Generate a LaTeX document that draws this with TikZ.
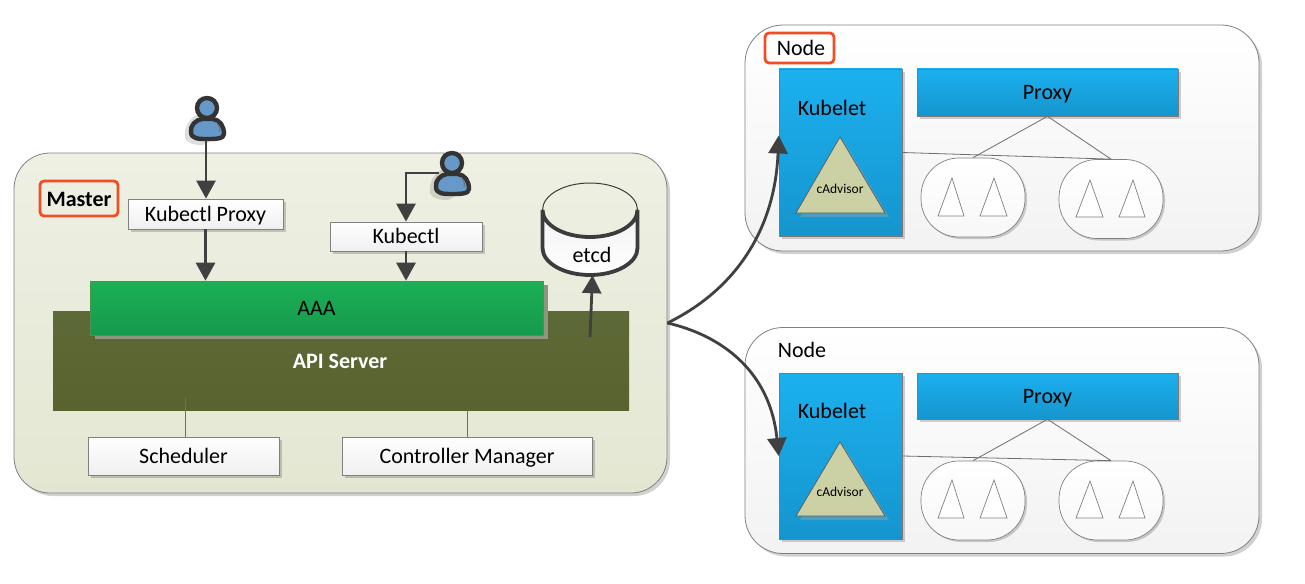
\documentclass[tikz,border=0pt]{standalone}
\usepackage{fontspec}
\setmainfont{Carlito}
\usetikzlibrary{arrows.meta,calc,positioning,shadows}
\definecolor{arrowgray}{HTML}{404040}
\definecolor{edgegray}{HTML}{808080}
\definecolor{markred}{HTML}{F04E23}
\definecolor{userblue}{HTML}{6699C8}
\definecolor{cadvisorfill}{HTML}{CBD1A4}
\definecolor{mastertop}{HTML}{EEF0E3}
\definecolor{masterbottom}{HTML}{E3E7D2}
\definecolor{bluetop}{HTML}{1CB0EF}
\definecolor{bluebottom}{HTML}{1595CE}
\definecolor{greentop}{HTML}{1BB056}
\definecolor{greenbottom}{HTML}{169A4C}
\definecolor{olivetop}{HTML}{5D6937}
\definecolor{olivebottom}{HTML}{59632F}
\definecolor{aaashade}{HTML}{92957E}
\definecolor{cylinderink}{HTML}{3C3C3C}
\tikzset{
    softshadow/.style={drop shadow={shadow xshift=#1,shadow yshift=-#1,fill=black,opacity=0.18}},
    boardbox/.style={draw=edgegray,line width=0.8pt,rounded corners=#1,top color=white,bottom color=black!5,softshadow=3pt},
    masterbox/.style={boardbox=36pt,top color=mastertop,bottom color=masterbottom},
    whitebox/.style={draw=edgegray,line width=0.8pt,top color=white,bottom color=black!6,softshadow=3pt,text height=14pt,text depth=0pt,font=\fontsize{22}{26}\selectfont},
    bluebox/.style={draw=arrowgray!70,line width=0.6pt,top color=bluetop,bottom color=bluebottom,softshadow=3pt,text height=14pt,text depth=0pt,font=\fontsize{22}{26}\selectfont},
    podbox/.style={draw=edgegray,line width=0.7pt,rounded corners=38pt,top color=white,bottom color=black!3,minimum width=104pt,minimum height=79pt,softshadow=2pt},
    tagbox/.style={draw=markred,line width=2.8pt,rounded corners=4pt,fill=none},
    plaintext/.style={inner sep=0pt,font=\fontsize{22}{26}\selectfont},
    smalltext/.style={inner sep=0pt,font=\fontsize{13.5}{16}\selectfont},
    arrowline/.style={draw=arrowgray,line width=2.8pt,-{Triangle[width=19pt,length=18pt]}},
    thinline/.style={draw=edgegray!85!black,line width=0.8pt},
    minitri/.style={draw=edgegray,line width=0.7pt,fill=white},
    advisortri/.style={draw=edgegray!70!black,line width=0.7pt,fill=cadvisorfill},
    advisorback/.style={fill=gray!60!cyan,opacity=0.6}
}
% person icon: #1 is the middle of the head
\newcommand{\usericon}[1]{
    \begin{scope}[shift={#1}]
        \fill[black,opacity=0.13] (-22,30) .. controls (-24,16) and (-14,8) .. (-6,4) -- (10,30) -- (-4,37) .. controls (-12,37) and (-20,36) .. (-22,30) -- cycle;
        \draw[black!80,line width=4.4pt,line join=round,fill=userblue] (-16,24) .. controls (-17,17) and (-11,12) .. (-5,11) -- (6,11)
            .. controls (13,12) and (17,18) .. (17,26) .. controls (17,31) and (8,31) .. (0,31) .. controls (-8,31) and (-16,31) .. (-16,24) -- cycle;
        \draw[black!80,line width=4.4pt,fill=userblue] (0,0) circle (10);
        \draw[black!60,line width=0.7pt] (9,14) .. controls (12,17) and (13,20) .. (12,24);
    \end{scope}
}

\begin{document}
\begin{tikzpicture}[x=1pt,y=-1pt]
    \useasboundingbox (0,0) rectangle (1305,583);

    % master side
    \node[masterbox,minimum width=653pt,minimum height=340pt] (master) at (340.5,323) {};
    \node[tagbox,minimum width=78pt,minimum height=35pt] (mastertag) at (79,198.5) {};
    \node[plaintext,font=\fontsize{22}{26}\selectfont\bfseries] (masterlabel) at (79,199) {Master};
    \node[whitebox,minimum width=155pt,minimum height=30pt] (kubectlproxy) at (205.5,214) {Kubectl Proxy};
    \node[whitebox,minimum width=152pt,minimum height=29pt] (kubectl) at (406,236.5) {Kubectl};
    \node[minimum width=576pt,minimum height=99pt,top color=olivetop,bottom color=olivebottom,inner sep=0pt] (apiserver) at (341,360.5) {};
    \node[plaintext,text=white,font=\fontsize{22}{26}\selectfont\bfseries] (apilabel) at (340,361) {API Server};
    \node[draw=green!40!black!70,line width=0.6pt,minimum width=453pt,minimum height=54pt,top color=greentop,bottom color=greenbottom,
        drop shadow={shadow xshift=5pt,shadow yshift=-4pt,fill=aaashade,opacity=1},font=\fontsize{22}{26}\selectfont] (aaa) at (316.5,308) {AAA};
    \node[whitebox,minimum width=191pt,minimum height=38pt] (scheduler) at (183.5,456) {Scheduler};
    \node[whitebox,minimum width=250pt,minimum height=38pt] (controller) at (467,456) {Controller Manager};
    \coordinate (schedulertop) at (185,397);
    \draw[thinline] (schedulertop) -- (schedulertop |- scheduler.north);
    \draw[thinline] (apiserver.south -| controller.north) -- (controller.north);

    % etcd
    \node[minimum width=96pt,minimum height=92pt,inner sep=0pt] (etcd) at (590.5,229) {};
    \path[top color=black!5,bottom color=white] (542.5,210) arc[x radius=47.5,y radius=27,start angle=180,end angle=0] -- (637.5,248) arc[x radius=47.5,y radius=27,start angle=0,end angle=180] -- cycle;
    \draw[cylinderink,line width=1pt] (542.5,210) arc[x radius=47.5,y radius=27,start angle=180,end angle=360];
    \draw[cylinderink,line width=3.8pt] (542.5,210) arc[x radius=47.5,y radius=27,start angle=180,end angle=0] -- (637.5,248) arc[x radius=47.5,y radius=27,start angle=0,end angle=180] -- cycle;
    \node[plaintext] (etcdlabel) at (592,255) {etcd};
    \coordinate (etcdfoot) at (590,337);
    \draw[arrowline] (etcdfoot) -- ([xshift=2pt]etcd.south);

    % users and their arrows
    \usericon{(207,108)}
    \usericon{(452,163)}
    \node[minimum width=37pt,minimum height=44pt,inner sep=0pt] (userone) at (206,118) {};
    \node[minimum width=37pt,minimum height=44pt,inner sep=0pt] (usertwo) at (452,173) {};
    \draw[arrowline] (userone.south) -- (kubectlproxy.north -| userone.south);
    \draw[arrowline] (kubectlproxy.south) -- (aaa.north -| kubectlproxy.south);
    \draw[arrowline] ($(usertwo.west)+(6,0)$) -| (kubectl.north);
    \draw[arrowline] (kubectl.south) -- (aaa.north -| kubectl.south);

    % first node
    \node[boardbox=38pt,minimum width=514pt,minimum height=226pt] (nodeone) at (1002,138) {};
    \node[tagbox,minimum width=69pt,minimum height=30pt] (nodetag) at (799.5,48) {};
    \node[plaintext] (nodeonelabel) at (801,48) {Node};
    \node[bluebox,minimum width=123pt,minimum height=167pt] (kubeletone) at (840.5,152.5) {};
    \node[plaintext] (kubeletonelabel) at (832,108) {Kubelet};
    \node[bluebox,minimum width=261pt,minimum height=47pt] (proxyone) at (1047.5,92.5) {Proxy};
    \fill[advisorback] (844,141) -- (889,217) -- (800,217) -- cycle;
    \draw[advisortri] (840,137) -- (885,213) -- (796,213) -- cycle;
    \node[smalltext] (advisoronelabel) at (840,189) {cAdvisor};
    \node[podbox] (podonea) at (973,197.5) {};
    \node[podbox] (podoneb) at (1111,199) {};
    \draw[minitri] (952,178) -- (964,216) -- (938,216) -- cycle;
    \draw[minitri] (994,178) -- (1007,216) -- (980,216) -- cycle;
    \draw[minitri] (1090,180) -- (1103,217) -- (1076,217) -- cycle;
    \draw[minitri] (1133,180) -- (1145,217) -- (1119,217) -- cycle;
    \draw[thinline] (proxyone.south) -- (podonea.north);
    \draw[thinline] (proxyone.south) -- (podoneb.north);
    \draw[thinline] (kubeletone.east) -- (podoneb.north);

    % second node
    \node[boardbox=38pt,minimum width=514pt,minimum height=226pt] (nodetwo) at (1002,440.5) {};
    \node[plaintext] (nodetwolabel) at (802,350) {Node};
    \node[bluebox,minimum width=123pt,minimum height=166pt] (kubelettwo) at (840.5,456) {};
    \node[plaintext] (kubelettwolabel) at (832,411) {Kubelet};
    \node[bluebox,minimum width=261pt,minimum height=46pt] (proxytwo) at (1047.5,396) {Proxy};
    \fill[advisorback] (844,446) -- (889,520) -- (800,520) -- cycle;
    \draw[advisortri] (840,442) -- (885,516) -- (796,516) -- cycle;
    \node[smalltext] (advisortwolabel) at (840,492) {cAdvisor};
    \node[podbox] (podtwoa) at (973,500.5) {};
    \node[podbox] (podtwob) at (1111,500.5) {};
    \draw[minitri] (952,480) -- (964,518) -- (938,518) -- cycle;
    \draw[minitri] (994,480) -- (1007,518) -- (980,518) -- cycle;
    \draw[minitri] (1090,481) -- (1103,518) -- (1076,518) -- cycle;
    \draw[minitri] (1133,481) -- (1145,518) -- (1119,518) -- cycle;
    \draw[thinline] (proxytwo.south) -- (podtwoa.north);
    \draw[thinline] (proxytwo.south) -- (podtwob.north);
    \draw[thinline] (kubelettwo.east) -- (podtwob.north);

    % master to nodes
    \draw[arrowline] (master.east) .. controls (735,290) and (775,230) .. ([yshift=17pt]kubeletone.west);
    \draw[arrowline] (master.east) .. controls (720,335) and (770,370) .. (kubelettwo.west);
\end{tikzpicture}
\end{document}
